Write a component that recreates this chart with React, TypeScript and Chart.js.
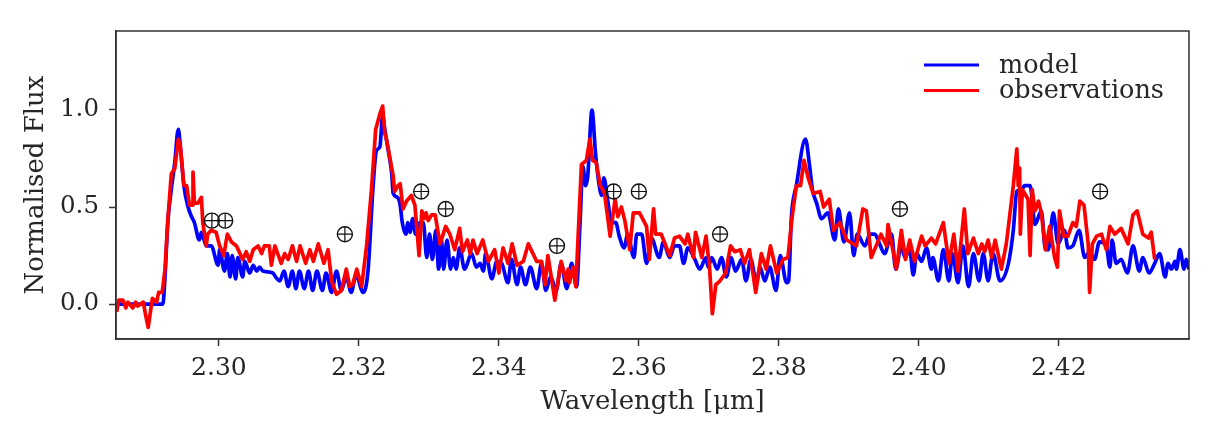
import React, { useEffect, useRef } from 'react';
import Chart from 'chart.js/auto';

// wavelength in micron, flux normalised
const modelWave = [
  2.2853, 2.2900, 2.2913, 2.2920, 2.2923, 2.2927, 2.2932, 2.2937, 2.2942, 2.2945,
  2.2950, 2.2956, 2.2961, 2.2965, 2.2972, 2.2975, 2.2982, 2.2989, 2.2999, 2.3001,
  2.3008, 2.3012, 2.3016, 2.3019, 2.3024, 2.3027, 2.3034, 2.3037, 2.3044, 2.3049,
  2.3054, 2.3058, 2.3063, 2.3077, 2.3081, 2.3087, 2.3093, 2.3099, 2.3105, 2.3110,
  2.3115, 2.3122, 2.3128, 2.3134, 2.3140, 2.3148, 2.3153, 2.3161, 2.3168, 2.3175,
  2.3182, 2.3189, 2.3196, 2.3206, 2.3213, 2.3220, 2.3225, 2.3230, 2.3234, 2.3237,
  2.3242, 2.3247, 2.3249, 2.3255, 2.3259, 2.3262, 2.3267, 2.3270, 2.3273, 2.3277,
  2.3281, 2.3287, 2.3292, 2.3297, 2.3301, 2.3305, 2.3310, 2.3314, 2.3318, 2.3321,
  2.3326, 2.3331, 2.3335, 2.3339, 2.3344, 2.3351, 2.3361, 2.3368, 2.3373, 2.3378,
  2.3381, 2.3390, 2.3397, 2.3404, 2.3413, 2.3418, 2.3426, 2.3431, 2.3438, 2.3445,
  2.3454, 2.3461, 2.3467, 2.3474, 2.3482, 2.3489, 2.3497, 2.3504, 2.3511, 2.3516,
  2.3520, 2.3524, 2.3527, 2.3533, 2.3538, 2.3543, 2.3547, 2.3550, 2.3556, 2.3561,
  2.3567, 2.3572, 2.3579, 2.3584, 2.3593, 2.3597, 2.3604, 2.3611, 2.3618, 2.3629,
  2.3635, 2.3644, 2.3651, 2.3658, 2.3664, 2.3670, 2.3680, 2.3687, 2.3696, 2.3699,
  2.3704, 2.3712, 2.3718, 2.3725, 2.3732, 2.3738, 2.3747, 2.3753, 2.3760, 2.3768,
  2.3773, 2.3780, 2.3787, 2.3796, 2.3802, 2.3811, 2.3814, 2.3818, 2.3825, 2.3838,
  2.3844, 2.3848, 2.3854, 2.3861, 2.3870, 2.3880, 2.3885, 2.3893, 2.3901, 2.3907,
  2.3912, 2.3923, 2.3930, 2.3937, 2.3944, 2.3951, 2.3961, 2.3967, 2.3975, 2.3980,
  2.3987, 2.3992, 2.3997, 2.4004, 2.4011, 2.4018, 2.4020, 2.4028, 2.4035, 2.4043,
  2.4048, 2.4056, 2.4063, 2.4071, 2.4078, 2.4086, 2.4092, 2.4099, 2.4106, 2.4116,
  2.4128, 2.4135, 2.4140, 2.4147, 2.4151, 2.4159, 2.4166, 2.4175, 2.4181, 2.4185,
  2.4192, 2.4199, 2.4208, 2.4213, 2.4220, 2.4229, 2.4237, 2.4244, 2.4251, 2.4258,
  2.4268, 2.4273, 2.4276, 2.4282, 2.4289, 2.4298, 2.4306, 2.4315, 2.4320, 2.4329,
  2.4337, 2.4344, 2.4352, 2.4356, 2.4361, 2.4366, 2.4368, 2.4373, 2.4379, 2.4382,
  2.4386,
];
const modelFlux = [
  0.00, 0.00, 0.00, 0.00, 0.14, 0.42, 0.59, 0.73, 0.90, 0.81,
  0.61, 0.50, 0.45, 0.42, 0.33, 0.37, 0.30, 0.30, 0.20, 0.28,
  0.17, 0.26, 0.14, 0.25, 0.13, 0.24, 0.14, 0.22, 0.16, 0.20,
  0.17, 0.19, 0.17, 0.16, 0.14, 0.12, 0.17, 0.09, 0.17, 0.08,
  0.17, 0.08, 0.17, 0.07, 0.17, 0.07, 0.16, 0.06, 0.17, 0.07,
  0.14, 0.06, 0.15, 0.06, 0.17, 0.59, 0.79, 0.81, 0.97, 0.90,
  0.79, 0.67, 0.57, 0.55, 0.51, 0.42, 0.36, 0.42, 0.37, 0.44,
  0.36, 0.42, 0.42, 0.24, 0.36, 0.23, 0.38, 0.18, 0.33, 0.18,
  0.33, 0.18, 0.24, 0.18, 0.29, 0.18, 0.26, 0.19, 0.21, 0.17,
  0.26, 0.13, 0.22, 0.21, 0.11, 0.23, 0.10, 0.19, 0.10, 0.19,
  0.08, 0.21, 0.07, 0.14, 0.07, 0.21, 0.08, 0.21, 0.09, 0.42,
  0.71, 0.61, 0.66, 1.00, 0.78, 0.62, 0.56, 0.65, 0.52, 0.42,
  0.42, 0.35, 0.29, 0.36, 0.24, 0.36, 0.36, 0.21, 0.34, 0.24,
  0.32, 0.24, 0.30, 0.30, 0.21, 0.29, 0.23, 0.18, 0.24, 0.19,
  0.24, 0.18, 0.24, 0.14, 0.24, 0.17, 0.23, 0.12, 0.23, 0.11,
  0.19, 0.12, 0.19, 0.07, 0.25, 0.11, 0.12, 0.45, 0.61, 0.85,
  0.71, 0.59, 0.52, 0.44, 0.47, 0.33, 0.49, 0.32, 0.47, 0.25,
  0.36, 0.30, 0.36, 0.36, 0.31, 0.26, 0.36, 0.18, 0.30, 0.24,
  0.28, 0.15, 0.26, 0.22, 0.29, 0.18, 0.24, 0.12, 0.28, 0.12,
  0.26, 0.11, 0.30, 0.09, 0.26, 0.12, 0.26, 0.12, 0.26, 0.12,
  0.21, 0.38, 0.58, 0.59, 0.61, 0.61, 0.41, 0.48, 0.28, 0.28,
  0.47, 0.31, 0.38, 0.29, 0.30, 0.38, 0.24, 0.27, 0.23, 0.32,
  0.30, 0.19, 0.33, 0.21, 0.23, 0.16, 0.30, 0.17, 0.24, 0.16,
  0.21, 0.26, 0.14, 0.21, 0.18, 0.22, 0.18, 0.28, 0.18, 0.23,
  0.18,
];

const obsWave = [
  2.2854, 2.2857, 2.2863, 2.2867, 2.2870, 2.2877, 2.2881, 2.2884, 2.2892, 2.2895,
  2.2899, 2.2905, 2.2911, 2.2914, 2.2919, 2.2923, 2.2927, 2.2932, 2.2937, 2.2942,
  2.2945, 2.2950, 2.2954, 2.2958, 2.2962, 2.2963, 2.2965, 2.2970, 2.2975, 2.2977,
  2.2982, 2.2984, 2.2989, 2.2996, 2.3001, 2.3007, 2.3012, 2.3018, 2.3025, 2.3034,
  2.3039, 2.3044, 2.3049, 2.3056, 2.3061, 2.3065, 2.3072, 2.3075, 2.3080, 2.3089,
  2.3094, 2.3099, 2.3105, 2.3111, 2.3116, 2.3124, 2.3130, 2.3135, 2.3142, 2.3150,
  2.3156, 2.3161, 2.3168, 2.3175, 2.3182, 2.3187, 2.3191, 2.3197, 2.3204, 2.3211,
  2.3218, 2.3224, 2.3230, 2.3234, 2.3237, 2.3240, 2.3244, 2.3249, 2.3251, 2.3256,
  2.3259, 2.3263, 2.3268, 2.3275, 2.3280, 2.3286, 2.3290, 2.3293, 2.3296, 2.3299,
  2.3304, 2.3309, 2.3316, 2.3324, 2.3330, 2.3337, 2.3344, 2.3348, 2.3355, 2.3359,
  2.3363, 2.3369, 2.3377, 2.3385, 2.3394, 2.3400, 2.3406, 2.3413, 2.3419, 2.3426,
  2.3435, 2.3442, 2.3454, 2.3461, 2.3466, 2.3470, 2.3474, 2.3480, 2.3489, 2.3496,
  2.3499, 2.3501, 2.3506, 2.3510, 2.3513, 2.3518, 2.3525, 2.3530, 2.3534, 2.3539,
  2.3545, 2.3551, 2.3559, 2.3566, 2.3570, 2.3575, 2.3580, 2.3587, 2.3592, 2.3601,
  2.3611, 2.3615, 2.3621, 2.3624, 2.3632, 2.3644, 2.3651, 2.3658, 2.3666, 2.3670,
  2.3678, 2.3681, 2.3690, 2.3696, 2.3701, 2.3705, 2.3710, 2.3716, 2.3724, 2.3731,
  2.3737, 2.3745, 2.3751, 2.3758, 2.3767, 2.3775, 2.3782, 2.3788, 2.3797, 2.3806,
  2.3813, 2.3819, 2.3825, 2.3831, 2.3836, 2.3842, 2.3849, 2.3859, 2.3864, 2.3872,
  2.3878, 2.3887, 2.3897, 2.3911, 2.3920, 2.3925, 2.3932, 2.3939, 2.3946, 2.3954,
  2.3956, 2.3968, 2.3975, 2.3981, 2.3987, 2.3994, 2.4004, 2.4009, 2.4018, 2.4024,
  2.4035, 2.4043, 2.4050, 2.4056, 2.4065, 2.4070, 2.4078, 2.4085, 2.4090, 2.4094,
  2.4099, 2.4104, 2.4109, 2.4118, 2.4125, 2.4135, 2.4140, 2.4142, 2.4144, 2.4145,
  2.4148, 2.4156, 2.4159, 2.4162, 2.4166, 2.4171, 2.4175, 2.4181, 2.4187, 2.4194,
  2.4198, 2.4201, 2.4207, 2.4213, 2.4220, 2.4225, 2.4230, 2.4236, 2.4242, 2.4244,
  2.4248, 2.4254, 2.4261, 2.4268, 2.4273, 2.4280, 2.4289, 2.4299, 2.4306, 2.4312,
  2.4320, 2.4328, 2.4332, 2.4337,
];
const obsFlux = [
  -0.04, 0.02, 0.02, -0.02, 0.01, -0.02, 0.01, -0.01, 0.01, -0.05,
  -0.12, 0.03, 0.01, 0.06, 0.06, 0.18, 0.43, 0.67, 0.70, 0.85,
  0.81, 0.61, 0.61, 0.51, 0.51, 0.68, 0.52, 0.52, 0.55, 0.42,
  0.30, 0.36, 0.38, 0.37, 0.30, 0.25, 0.36, 0.32, 0.30, 0.23,
  0.27, 0.22, 0.28, 0.30, 0.26, 0.30, 0.30, 0.20, 0.30, 0.21,
  0.26, 0.23, 0.30, 0.22, 0.30, 0.21, 0.28, 0.22, 0.31, 0.21,
  0.28, 0.12, 0.05, 0.07, 0.18, 0.09, 0.10, 0.18, 0.09, 0.30,
  0.59, 0.90, 0.98, 1.02, 0.88, 0.84, 0.76, 0.66, 0.58, 0.61,
  0.62, 0.49, 0.53, 0.56, 0.51, 0.25, 0.48, 0.44, 0.47, 0.43,
  0.46, 0.46, 0.31, 0.40, 0.36, 0.28, 0.39, 0.27, 0.33, 0.26,
  0.33, 0.26, 0.33, 0.22, 0.28, 0.16, 0.29, 0.21, 0.31, 0.20,
  0.22, 0.31, 0.22, 0.22, 0.10, 0.25, 0.16, 0.02, 0.22, 0.12,
  0.18, 0.11, 0.19, 0.09, 0.33, 0.72, 0.74, 0.85, 0.74, 0.73,
  0.61, 0.57, 0.35, 0.54, 0.45, 0.50, 0.43, 0.28, 0.47, 0.47,
  0.40, 0.23, 0.49, 0.36, 0.36, 0.25, 0.34, 0.35, 0.31, 0.36,
  0.24, 0.37, 0.24, 0.35, 0.19, -0.05, 0.10, 0.12, 0.16, 0.30,
  0.27, 0.28, 0.21, 0.28, 0.06, 0.26, 0.18, 0.30, 0.16, 0.23,
  0.24, 0.45, 0.61, 0.61, 0.74, 0.65, 0.57, 0.58, 0.50, 0.54,
  0.38, 0.42, 0.33, 0.30, 0.49, 0.48, 0.24, 0.30, 0.36, 0.30,
  0.41, 0.18, 0.38, 0.23, 0.33, 0.22, 0.35, 0.30, 0.34, 0.31,
  0.42, 0.21, 0.36, 0.17, 0.49, 0.26, 0.34, 0.26, 0.31, 0.27,
  0.33, 0.24, 0.33, 0.18, 0.31, 0.61, 0.80, 0.61, 0.70, 0.36,
  0.59, 0.54, 0.25, 0.59, 0.48, 0.53, 0.47, 0.28, 0.40, 0.24,
  0.19, 0.48, 0.35, 0.35, 0.42, 0.40, 0.53, 0.51, 0.31, 0.06,
  0.31, 0.35, 0.36, 0.28, 0.40, 0.36, 0.39, 0.31, 0.46, 0.48,
  0.36, 0.34, 0.37, 0.23,
];

// telluric features marked with a circled plus
const telluricWave = [2.2990, 2.3009, 2.3180, 2.3289, 2.3324, 2.3483, 2.3564, 2.3600, 2.3716, 2.3973, 2.4259];
const telluricFlux = [0.43, 0.43, 0.36, 0.58, 0.49, 0.30, 0.58, 0.58, 0.36, 0.49, 0.58];

const xTicks = [2.3, 2.32, 2.34, 2.36, 2.38, 2.4, 2.42];
const yTicks = [0, 0.5, 1];

const toPoints = (xs: number[], ys: number[]) => xs.map((x, i) => ({ x, y: ys[i] }));

const serif = '"DejaVu Serif", serif';
const inkColor = '#262626';
const frameColor = '#333333';

// legend sits inside the axes and the frame is closed on all four sides
const framePlugin = {
  id: 'frameAndLegend',
  afterDraw(chart: any) {
    const { ctx, chartArea } = chart;
    ctx.save();
    ctx.strokeStyle = frameColor;
    ctx.lineWidth = 1.5;
    ctx.strokeRect(chartArea.left, chartArea.top, chartArea.right - chartArea.left, chartArea.bottom - chartArea.top);

    ctx.font = `25.5px ${serif}`;
    ctx.textBaseline = 'middle';
    ctx.fillStyle = inkColor;
    chart.data.datasets.slice(0, 2).forEach((ds: any, i: number) => {
      const y = 65 + i * 25.5;
      ctx.strokeStyle = ds.borderColor;
      ctx.lineWidth = 3;
      ctx.beginPath();
      ctx.moveTo(924, y);
      ctx.lineTo(979, y);
      ctx.stroke();
      ctx.fillText(ds.label, 999, y + 1);
    });
    ctx.restore();
  },
};

const App: React.FC = () => {
  const canvasRef = useRef<HTMLCanvasElement>(null);

  useEffect(() => {
    if (!canvasRef.current) return;
    const chart = new Chart(canvasRef.current, {
      type: 'line',
      data: {
        datasets: [
          {
            label: 'model',
            data: toPoints(modelWave, modelFlux),
            borderColor: '#0000ff',
            borderWidth: 3.7,
            borderJoinStyle: 'round',
            cubicInterpolationMode: 'monotone',
            pointRadius: 0,
            order: 3,
          },
          {
            label: 'observations',
            data: toPoints(obsWave, obsFlux),
            borderColor: '#ff0000',
            borderWidth: 3.7,
            borderJoinStyle: 'round',
            pointRadius: 0,
            tension: 0,
            order: 2,
          },
          {
            label: 'telluric',
            data: toPoints(telluricWave, telluricFlux),
            showLine: false,
            pointStyle: 'circle',
            pointRadius: 7.5,
            pointBorderColor: '#111111',
            pointBackgroundColor: 'rgba(0,0,0,0)',
            pointBorderWidth: 1.4,
            order: 1,
          },
          {
            label: 'telluric cross',
            data: toPoints(telluricWave, telluricFlux),
            showLine: false,
            pointStyle: 'cross',
            pointRadius: 7.5,
            pointBorderColor: '#111111',
            pointBorderWidth: 1.2,
            order: 0,
          },
        ],
      },
      options: {
        responsive: false,
        animation: false,
        layout: { padding: { left: 0, top: 31, right: 30, bottom: 0 } },
        plugins: { legend: { display: false }, tooltip: { enabled: false } },
        scales: {
          x: {
            type: 'linear',
            min: 2.2853,
            max: 2.4386,
            afterFit: (scale: any) => { scale.height = 102; },
            afterBuildTicks: (scale: any) => { scale.ticks = xTicks.map((value) => ({ value })); },
            grid: { drawOnChartArea: false, tickLength: 7, tickColor: frameColor, tickWidth: 1.5 },
            border: { color: frameColor, width: 1.5 },
            ticks: {
              color: inkColor,
              font: { family: serif, size: 25 },
              padding: 7,
              maxRotation: 0,
              callback: (v: any) => Number(v).toFixed(2),
            },
            title: {
              display: true,
              text: 'Wavelength [μm]',
              color: inkColor,
              font: { family: serif, size: 26 },
              padding: { top: 0, bottom: 23 },
            },
          },
          y: {
            min: -0.18,
            max: 1.407,
            afterFit: (scale: any) => { scale.width = 116; },
            afterBuildTicks: (scale: any) => { scale.ticks = yTicks.map((value) => ({ value })); },
            grid: { drawOnChartArea: false, tickLength: 7, tickColor: frameColor, tickWidth: 1.5 },
            border: { color: frameColor, width: 1.5 },
            ticks: {
              color: inkColor,
              font: { family: serif, size: 24.5 },
              padding: 10,
              callback: (v: any) => Number(v).toFixed(1),
            },
            title: {
              display: true,
              text: 'Normalised Flux',
              color: inkColor,
              font: { family: serif, size: 26 },
              padding: { top: 21, bottom: 0 },
            },
          },
        },
      },
      plugins: [framePlugin],
    });
    return () => chart.destroy();
  }, []);

  return (
    <div style={{ position: 'absolute', left: 0, top: 0, width: 1219, height: 441, background: '#fff' }}>
      <canvas ref={canvasRef} width={1219} height={441} />
    </div>
  );
};

export default App;
